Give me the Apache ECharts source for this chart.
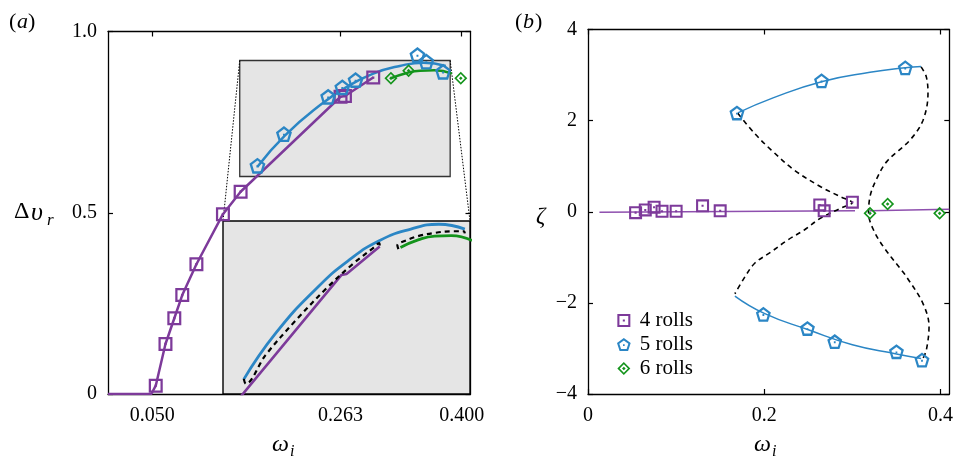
<!DOCTYPE html>
<html><head><meta charset="utf-8">
<script src="https://cdn.jsdelivr.net/npm/echarts@6/dist/echarts.min.js"></script>
<style>html,body{margin:0;padding:0;background:#fff}#c{width:956px;height:459px}</style>
</head><body><div id="c"></div>
<script>
// ---------------- data ----------------
// 4 rolls (squares)
const W4  = [0.054, 0.065, 0.075, 0.084, 0.100, 0.130, 0.150, 0.263, 0.268, 0.300];
const DV4 = [0.023, 0.138, 0.209, 0.273, 0.358, 0.496, 0.558, 0.820, 0.822, 0.873];
const Z4  = [-0.02, 0.04, 0.10, 0.01, 0.01, 0.13, 0.02, 0.15, 0.02, 0.21];
// 5 rolls (pentagons)
const W5  = [0.169, 0.199, 0.249, 0.265, 0.280, 0.350, 0.360, 0.379];
const DV5 = [0.630, 0.717, 0.820, 0.846, 0.866, 0.935, 0.917, 0.889];
const Z5  = [2.17, -2.25, -2.56, 2.875, -2.85, -3.07, 3.16, -3.255];
// 6 rolls (diamonds)
const W6  = [0.320, 0.340, 0.399];
const DV6 = [0.871, 0.892, 0.871];
const Z6  = [-0.035, 0.17, -0.035];

// panel (a) curves
const A4_LINE_W  = [0, 0.049, 0.054, 0.065, 0.075, 0.084, 0.100, 0.130, 0.150, 0.263, 0.268, 0.300];
const A4_LINE_DV = [0, 0, 0.023, 0.138, 0.209, 0.273, 0.358, 0.496, 0.558, 0.820, 0.822, 0.873];
const A5_CURVE_W  = [0.169, 0.200, 0.240, 0.270, 0.300, 0.330, 0.357, 0.382];
const A5_CURVE_DV = [0.627, 0.713, 0.797, 0.847, 0.884, 0.905, 0.914, 0.905];
const A6_CURVE_W  = [0.320, 0.337, 0.353, 0.369, 0.389];
const A6_CURVE_DV = [0.871, 0.885, 0.892, 0.893, 0.884];
const A_DASH1_W  = [0.169, 0.171, 0.190, 0.220, 0.250, 0.275, 0.293, 0.2995, 0.300];
const A_DASH1_DV = [0.628, 0.619, 0.672, 0.738, 0.798, 0.842, 0.869, 0.879, 0.874];
const A_DASH2_W  = [0.318, 0.317, 0.324, 0.337, 0.353, 0.369, 0.381, 0.382];
const A_DASH2_DV = [0.868, 0.875, 0.883, 0.892, 0.898, 0.901, 0.901, 0.897];
// zoomed region shown in the inset
const INSET_W  = [0.149, 0.387];
const INSET_DV = [0.60, 0.92];

// panel (b) curves
const B4_LINE1_W = [0.013, 0.303], B4_LINE1_Z = [-0.01, 0.022];
const B4_LINE2_W = [0.320, 0.410], B4_LINE2_Z = [0.022, 0.053];
const B5_UP_W = [0.170, 0.210, 0.266, 0.320, 0.360, 0.378];
const B5_UP_Z = [2.17, 2.50, 2.86, 3.06, 3.16, 3.19];
const B5_LO_W = [0.1667, 0.200, 0.250, 0.300, 0.350, 0.378];
const B5_LO_Z = [-1.85, -2.23, -2.59, -2.92, -3.12, -3.22];
const B_DASH1_W = [0.170, 0.189, 0.208, 0.234, 0.264, 0.2865, 0.2997, 0.2865, 0.264, 0.2454, 0.2266, 0.2079, 0.1892, 0.178, 0.1667];
const B_DASH1_Z = [2.16, 1.72, 1.354, 0.915, 0.549, 0.329, 0.20, 0.075, -0.14, -0.40, -0.62, -0.88, -1.13, -1.43, -1.80];
const B_DASH2_W = [0.378, 0.3839, 0.3858, 0.3802, 0.3652, 0.339, 0.326, 0.320, 0.3184, 0.324, 0.3353, 0.354, 0.3615, 0.380, 0.387, 0.3839, 0.380];
const B_DASH2_Z = [3.18, 2.96, 2.60, 2.01, 1.57, 1.10, 0.66, 0.33, -0.035, -0.40, -0.77, -1.24, -1.43, -2.01, -2.52, -3.04, -3.22];

// ticks
const A_X_TICKS = [0.05, 0.263, 0.4];
const B_X_TICKS = [0, 0.2, 0.4];
const LEGEND_NAMES = ['4 rolls', '5 rolls', '6 rolls'];

// ---------------- style ----------------
const PURPLE = '#7d3a9a', PURPLE_B = '#8e4fae', BLUE = '#2b86c5', GREEN = '#14941c';
const FF = '"Liberation Serif", "DejaVu Serif", serif';
const FS = 20;
const SQ = 'path://M0,0 L100,0 L100,100 L0,100 Z M16,16 L16,84 L84,84 L84,16 Z M42,42 L58,42 L58,58 L42,58 Z';
const PENT = 'path://M50,0 L100,36 L81,95 L19,95 L0,36 Z M50,17.7 L17,41.4 L29.5,80.4 L70.5,80.4 L83,41.4 Z M44,46 L56,46 L56,58 L44,58 Z';
const DIA = 'path://M50,0 L100,50 L50,100 L0,50 Z M50,18 L18,50 L50,82 L82,50 Z M50,36 L64,50 L50,64 L36,50 Z';

const pair = (xs, ys) => xs.map((x, i) => [x, ys[i]]);

const axisLine = { show: true, onZero: false, lineStyle: { color: '#000', width: 1.3 } };
const tickIn = (vals) => ({ show: true, inside: true, length: 5, lineStyle: { color: '#000', width: 1.2 }, customValues: vals });
const yTick = { show: true, inside: true, length: 5, lineStyle: { color: '#000', width: 1.2 } };

const xAxes = [
  { gridIndex: 0, type: 'value', min: 0, max: 0.41, position: 'bottom', axisLine, axisTick: { show: false }, splitLine: { show: false },
    axisLabel: { customValues: A_X_TICKS, margin: 12, fontFamily: FF, fontSize: FS, color: '#000', formatter: v => v.toFixed(3) } },
  { gridIndex: 0, type: 'value', min: 0, max: 0.41, position: 'top', axisLine, axisTick: tickIn(A_X_TICKS), splitLine: { show: false }, axisLabel: { show: false } },
  { gridIndex: 1, type: 'value', min: 0, max: 0.41, position: 'bottom', axisLine, axisTick: tickIn(B_X_TICKS), splitLine: { show: false },
    axisLabel: { customValues: B_X_TICKS, margin: 12, fontFamily: FF, fontSize: FS, color: '#000', formatter: v => v === 0 ? '0' : v.toFixed(1) } },
  { gridIndex: 1, type: 'value', min: 0, max: 0.41, position: 'top', axisLine, axisTick: tickIn(B_X_TICKS), splitLine: { show: false }, axisLabel: { show: false } },
  { gridIndex: 2, type: 'value', min: INSET_W[0], max: INSET_W[1], show: false, splitLine: { show: false } }
];
const yAxes = [
  { gridIndex: 0, type: 'value', min: 0, max: 1, interval: 0.5, position: 'left', axisLine, axisTick: yTick, splitLine: { show: false },
    axisLabel: { margin: 11, fontFamily: FF, fontSize: FS, color: '#000', formatter: v => v === 0 ? '0' : v.toFixed(1) } },
  { gridIndex: 0, type: 'value', min: 0, max: 1, interval: 0.5, position: 'right', axisLine, axisTick: yTick, splitLine: { show: false }, axisLabel: { show: false } },
  { gridIndex: 1, type: 'value', min: -4, max: 4, interval: 2, position: 'left', axisLine, axisTick: yTick, splitLine: { show: false },
    axisLabel: { margin: 11, fontFamily: FF, fontSize: FS, color: '#000', formatter: v => v < 0 ? '\u2212' + Math.abs(v) : String(v) } },
  { gridIndex: 1, type: 'value', min: -4, max: 4, interval: 2, position: 'right', axisLine, axisTick: yTick, splitLine: { show: false }, axisLabel: { show: false } },
  { gridIndex: 2, type: 'value', min: INSET_DV[0], max: INSET_DV[1], show: false, splitLine: { show: false } }
];

function ln(xi, yi, data, color, width, extra) {
  return Object.assign({ type: 'line', xAxisIndex: xi, yAxisIndex: yi, data, symbol: 'none', silent: true,
    lineStyle: { color, width }, z: 3, animation: false }, extra || {});
}
function dash(xi, yi, data, width, z) {
  return ln(xi, yi, data, '#000', width, { smooth: 0.35, z: z || 3, lineStyle: { color: '#000', width, type: [5, 4] } });
}
function sc(xi, yi, data, sym, size, color, name) {
  const s = { type: 'scatter', xAxisIndex: xi, yAxisIndex: yi, data, symbol: sym, symbolSize: size,
    itemStyle: { color, opacity: 1 }, z: 6, silent: true, animation: false };
  if (name) s.name = name;
  return s;
}

const series = [
  // panel (a): zoom rectangle
  { type: 'line', xAxisIndex: 0, yAxisIndex: 0, data: [], z: 1, silent: true,
    markArea: { silent: true, itemStyle: { color: '#e5e5e5', borderColor: '#333', borderWidth: 1.3 },
      data: [[{ coord: [INSET_W[0], INSET_DV[1]] }, { coord: [INSET_W[1], INSET_DV[0]] }]] } },
  ln(0, 0, pair(A4_LINE_W, A4_LINE_DV), PURPLE, 2.5),
  ln(0, 0, pair(A5_CURVE_W, A5_CURVE_DV), BLUE, 2.5, { smooth: 0.5 }),
  ln(0, 0, pair(A6_CURVE_W, A6_CURVE_DV), GREEN, 2.5, { smooth: 0.5 }),
  sc(0, 0, pair(W4, DV4), SQ, 14, PURPLE),
  sc(0, 0, pair(W5, DV5), PENT, 16, BLUE),
  sc(0, 0, pair(W6, DV6), DIA, 13, GREEN),
  // inset
  ln(4, 4, pair(A4_LINE_W, A4_LINE_DV), PURPLE, 2.6, { z: 8 }),
  ln(4, 4, pair(A5_CURVE_W, A5_CURVE_DV), BLUE, 2.8, { smooth: 0.5, z: 8 }),
  ln(4, 4, pair(A6_CURVE_W, A6_CURVE_DV), GREEN, 2.8, { smooth: 0.5, z: 8 }),
  dash(4, 4, pair(A_DASH1_W, A_DASH1_DV), 2.2, 8),
  dash(4, 4, pair(A_DASH2_W, A_DASH2_DV), 2.2, 8),
  // panel (b)
  ln(2, 2, pair(B4_LINE1_W, B4_LINE1_Z), PURPLE_B, 1.5),
  ln(2, 2, pair(B4_LINE2_W, B4_LINE2_Z), PURPLE_B, 1.5),
  ln(2, 2, pair(B5_UP_W, B5_UP_Z), BLUE, 1.5, { smooth: 0.5 }),
  ln(2, 2, pair(B5_LO_W, B5_LO_Z), BLUE, 1.5, { smooth: 0.5 }),
  dash(2, 2, pair(B_DASH1_W, B_DASH1_Z), 1.6),
  dash(2, 2, pair(B_DASH2_W, B_DASH2_Z), 1.6),
  sc(2, 2, pair(W4, Z4), SQ, 13, PURPLE, LEGEND_NAMES[0]),
  sc(2, 2, pair(W5, Z5), PENT, 15, BLUE, LEGEND_NAMES[1]),
  sc(2, 2, pair(W6, Z6), DIA, 13, GREEN, LEGEND_NAMES[2])
];

const txt = (x, y, text, size, italic, align) => ({
  type: 'text', x, y, silent: true, z: 20,
  style: { text, fill: '#000', font: (italic ? 'italic ' : '') + size + 'px ' + FF, align: align || 'left', verticalAlign: 'middle' }
});

const baseGraphic = [
  txt(9, 22, '(', 22, false), txt(17, 22, 'a', 22, true), txt(28, 22, ')', 22, false),
  txt(515, 22, '(', 22, false), txt(523, 22, 'b', 22, true), txt(535, 22, ')', 22, false),
  txt(14, 212, '\u0394', 24, false), txt(31, 213, '\u03c5', 26, true), txt(47, 221, 'r', 17, true),
  txt(536, 217, '\u03b6', 23, true),
  txt(272, 445, '\u03c9', 24, true), txt(290, 452, 'i', 16, true),
  txt(754, 445, '\u03c9', 24, true), txt(772, 452, 'i', 16, true)
];

const option = {
  backgroundColor: '#fff',
  animation: false,
  grid: [
    { left: 108, top: 31.5, width: 362.5, height: 362.5, show: false },
    { left: 588, top: 29.5, width: 365, height: 364.5, show: false },
    { left: 223, top: 221, width: 247, height: 173, show: true, backgroundColor: '#e5e5e5', borderColor: '#000', borderWidth: 1.4, z: 4 }
  ],
  xAxis: xAxes,
  yAxis: yAxes,
  legend: {
    orient: 'vertical', left: 612, top: 305, itemWidth: 22, itemHeight: 13, itemGap: 3, selectedMode: false,
    textStyle: { fontFamily: FF, fontSize: 21, color: '#000' },
    data: [
      { name: LEGEND_NAMES[0], icon: SQ },
      { name: LEGEND_NAMES[1], icon: PENT },
      { name: LEGEND_NAMES[2], icon: DIA }
    ]
  },
  series,
  graphic: baseGraphic
};

const chart = echarts.init(document.getElementById('c'));
chart.setOption(option);

// dotted connectors between the zoom rectangle and the inset box
const tl0 = chart.convertToPixel({ xAxisIndex: 0, yAxisIndex: 0 }, [INSET_W[0], INSET_DV[1]]);
const tr0 = chart.convertToPixel({ xAxisIndex: 0, yAxisIndex: 0 }, [INSET_W[1], INSET_DV[1]]);
const tl1 = chart.convertToPixel({ xAxisIndex: 4, yAxisIndex: 4 }, [INSET_W[0], INSET_DV[1]]);
const tr1 = chart.convertToPixel({ xAxisIndex: 4, yAxisIndex: 4 }, [INSET_W[1], INSET_DV[1]]);
const conn = (a, b) => ({ type: 'line', silent: true, z: 2,
  shape: { x1: a[0], y1: a[1], x2: b[0], y2: b[1] },
  style: { stroke: '#000', lineWidth: 1, lineDash: [1.5, 1.5] } });
chart.setOption({ graphic: baseGraphic.concat([conn(tl0, tl1), conn(tr0, tr1)]) });
</script></body></html>
